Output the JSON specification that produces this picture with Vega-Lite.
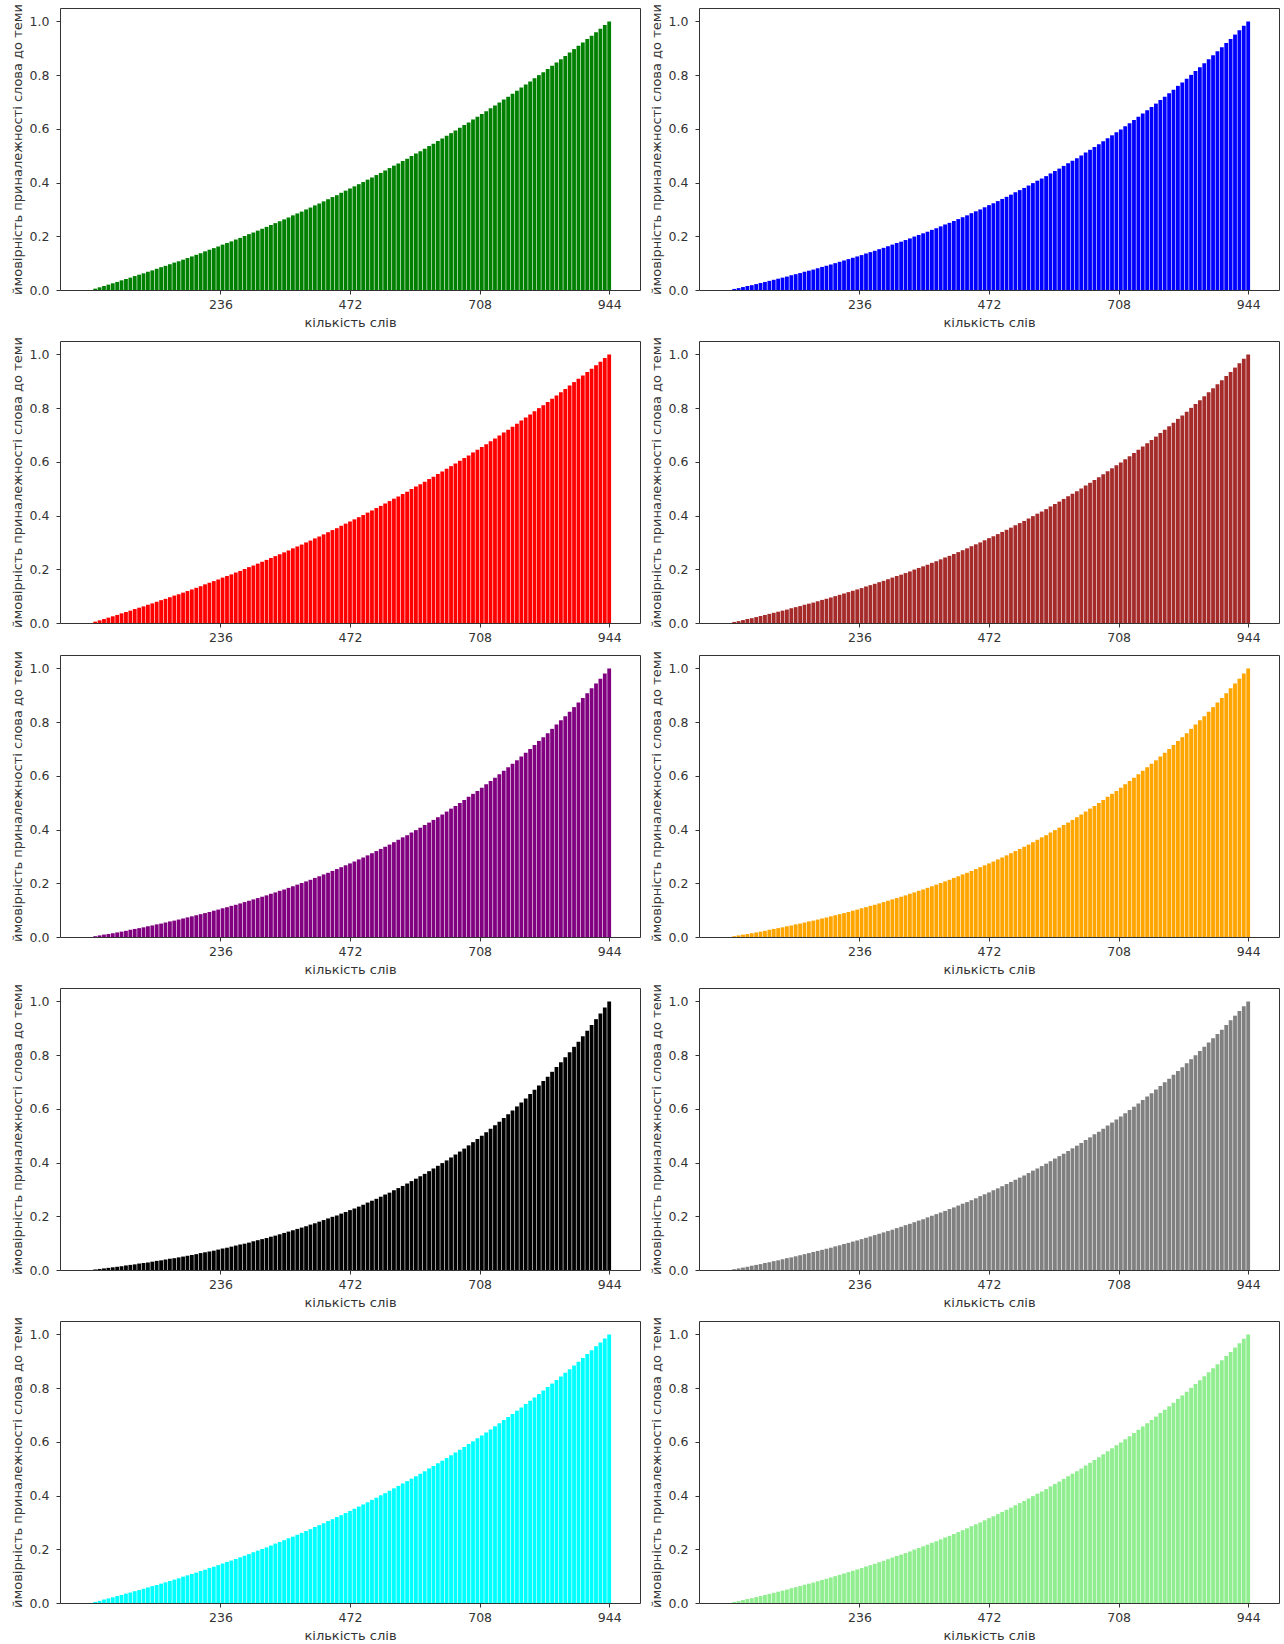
{
"$schema":"https://vega.github.io/schema/vega-lite/v6.json",
"background":"white",
"padding":{"left":10,"top":2,"right":5,"bottom":2},
"datasets":{"w":[
{"n":8,"a":0.005,"b":0.004,"c":0.004,"d":0.003,"e":0.003,"f":0.002},
{"n":16,"a":0.010,"b":0.008,"c":0.007,"d":0.006,"e":0.006,"f":0.004},
{"n":24,"a":0.015,"b":0.013,"c":0.011,"d":0.009,"e":0.009,"f":0.006},
{"n":32,"a":0.020,"b":0.017,"c":0.015,"d":0.012,"e":0.011,"f":0.008},
{"n":40,"a":0.025,"b":0.021,"c":0.018,"d":0.016,"e":0.014,"f":0.010},
{"n":48,"a":0.030,"b":0.026,"c":0.022,"d":0.019,"e":0.017,"f":0.012},
{"n":56,"a":0.036,"b":0.030,"c":0.026,"d":0.022,"e":0.020,"f":0.014},
{"n":64,"a":0.041,"b":0.035,"c":0.030,"d":0.026,"e":0.023,"f":0.017},
{"n":72,"a":0.046,"b":0.039,"c":0.034,"d":0.029,"e":0.027,"f":0.019},
{"n":80,"a":0.052,"b":0.044,"c":0.038,"d":0.033,"e":0.030,"f":0.021},
{"n":88,"a":0.057,"b":0.048,"c":0.042,"d":0.036,"e":0.033,"f":0.024},
{"n":96,"a":0.062,"b":0.053,"c":0.046,"d":0.040,"e":0.036,"f":0.026},
{"n":104,"a":0.068,"b":0.058,"c":0.050,"d":0.044,"e":0.040,"f":0.028},
{"n":112,"a":0.073,"b":0.063,"c":0.055,"d":0.047,"e":0.043,"f":0.031},
{"n":120,"a":0.079,"b":0.067,"c":0.059,"d":0.051,"e":0.047,"f":0.034},
{"n":128,"a":0.085,"b":0.072,"c":0.063,"d":0.055,"e":0.050,"f":0.036},
{"n":136,"a":0.090,"b":0.077,"c":0.068,"d":0.059,"e":0.054,"f":0.039},
{"n":144,"a":0.096,"b":0.082,"c":0.072,"d":0.063,"e":0.058,"f":0.042},
{"n":152,"a":0.102,"b":0.087,"c":0.076,"d":0.067,"e":0.061,"f":0.044},
{"n":160,"a":0.107,"b":0.092,"c":0.081,"d":0.071,"e":0.065,"f":0.047},
{"n":168,"a":0.113,"b":0.098,"c":0.086,"d":0.075,"e":0.069,"f":0.050},
{"n":176,"a":0.119,"b":0.103,"c":0.090,"d":0.079,"e":0.073,"f":0.053},
{"n":184,"a":0.125,"b":0.108,"c":0.095,"d":0.083,"e":0.077,"f":0.056},
{"n":192,"a":0.131,"b":0.113,"c":0.100,"d":0.088,"e":0.081,"f":0.059},
{"n":200,"a":0.137,"b":0.119,"c":0.105,"d":0.092,"e":0.085,"f":0.063},
{"n":208,"a":0.144,"b":0.124,"c":0.110,"d":0.097,"e":0.089,"f":0.066},
{"n":216,"a":0.150,"b":0.130,"c":0.115,"d":0.101,"e":0.093,"f":0.069},
{"n":224,"a":0.156,"b":0.135,"c":0.120,"d":0.106,"e":0.098,"f":0.072},
{"n":232,"a":0.162,"b":0.141,"c":0.125,"d":0.110,"e":0.102,"f":0.076},
{"n":240,"a":0.169,"b":0.147,"c":0.130,"d":0.115,"e":0.107,"f":0.080},
{"n":248,"a":0.175,"b":0.153,"c":0.136,"d":0.120,"e":0.111,"f":0.083},
{"n":256,"a":0.181,"b":0.158,"c":0.141,"d":0.125,"e":0.116,"f":0.087},
{"n":264,"a":0.188,"b":0.164,"c":0.146,"d":0.130,"e":0.120,"f":0.091},
{"n":272,"a":0.194,"b":0.170,"c":0.152,"d":0.135,"e":0.125,"f":0.095},
{"n":280,"a":0.201,"b":0.176,"c":0.157,"d":0.140,"e":0.130,"f":0.098},
{"n":288,"a":0.208,"b":0.182,"c":0.163,"d":0.145,"e":0.135,"f":0.102},
{"n":296,"a":0.214,"b":0.189,"c":0.169,"d":0.150,"e":0.140,"f":0.107},
{"n":304,"a":0.221,"b":0.195,"c":0.175,"d":0.156,"e":0.145,"f":0.111},
{"n":312,"a":0.228,"b":0.201,"c":0.180,"d":0.161,"e":0.150,"f":0.115},
{"n":320,"a":0.235,"b":0.207,"c":0.186,"d":0.167,"e":0.155,"f":0.119},
{"n":328,"a":0.242,"b":0.214,"c":0.192,"d":0.172,"e":0.161,"f":0.124},
{"n":336,"a":0.249,"b":0.221,"c":0.199,"d":0.178,"e":0.166,"f":0.128},
{"n":344,"a":0.256,"b":0.227,"c":0.205,"d":0.184,"e":0.172,"f":0.133},
{"n":352,"a":0.263,"b":0.234,"c":0.211,"d":0.189,"e":0.177,"f":0.138},
{"n":360,"a":0.270,"b":0.241,"c":0.217,"d":0.196,"e":0.183,"f":0.143},
{"n":368,"a":0.278,"b":0.247,"c":0.224,"d":0.202,"e":0.189,"f":0.148},
{"n":376,"a":0.285,"b":0.254,"c":0.230,"d":0.208,"e":0.195,"f":0.153},
{"n":384,"a":0.292,"b":0.261,"c":0.237,"d":0.214,"e":0.201,"f":0.158},
{"n":392,"a":0.300,"b":0.268,"c":0.244,"d":0.220,"e":0.207,"f":0.163},
{"n":400,"a":0.307,"b":0.275,"c":0.250,"d":0.227,"e":0.213,"f":0.169},
{"n":408,"a":0.315,"b":0.283,"c":0.257,"d":0.233,"e":0.220,"f":0.174},
{"n":416,"a":0.322,"b":0.290,"c":0.264,"d":0.240,"e":0.226,"f":0.180},
{"n":424,"a":0.330,"b":0.297,"c":0.271,"d":0.247,"e":0.233,"f":0.186},
{"n":432,"a":0.338,"b":0.305,"c":0.278,"d":0.253,"e":0.239,"f":0.192},
{"n":440,"a":0.346,"b":0.312,"c":0.286,"d":0.260,"e":0.246,"f":0.198},
{"n":448,"a":0.353,"b":0.320,"c":0.293,"d":0.267,"e":0.253,"f":0.203},
{"n":456,"a":0.362,"b":0.327,"c":0.300,"d":0.275,"e":0.260,"f":0.210},
{"n":464,"a":0.370,"b":0.335,"c":0.308,"d":0.282,"e":0.267,"f":0.216},
{"n":472,"a":0.378,"b":0.343,"c":0.316,"d":0.289,"e":0.274,"f":0.223},
{"n":480,"a":0.386,"b":0.351,"c":0.323,"d":0.297,"e":0.281,"f":0.229},
{"n":488,"a":0.394,"b":0.359,"c":0.331,"d":0.304,"e":0.289,"f":0.236},
{"n":496,"a":0.402,"b":0.367,"c":0.339,"d":0.312,"e":0.296,"f":0.243},
{"n":504,"a":0.411,"b":0.375,"c":0.347,"d":0.320,"e":0.304,"f":0.251},
{"n":512,"a":0.419,"b":0.384,"c":0.355,"d":0.328,"e":0.312,"f":0.258},
{"n":520,"a":0.428,"b":0.392,"c":0.364,"d":0.336,"e":0.320,"f":0.265},
{"n":528,"a":0.436,"b":0.401,"c":0.372,"d":0.344,"e":0.328,"f":0.273},
{"n":536,"a":0.445,"b":0.409,"c":0.380,"d":0.352,"e":0.336,"f":0.281},
{"n":544,"a":0.454,"b":0.418,"c":0.389,"d":0.361,"e":0.344,"f":0.288},
{"n":552,"a":0.463,"b":0.427,"c":0.398,"d":0.370,"e":0.353,"f":0.297},
{"n":560,"a":0.471,"b":0.436,"c":0.407,"d":0.378,"e":0.362,"f":0.305},
{"n":568,"a":0.480,"b":0.445,"c":0.415,"d":0.387,"e":0.371,"f":0.313},
{"n":576,"a":0.489,"b":0.454,"c":0.424,"d":0.396,"e":0.379,"f":0.322},
{"n":584,"a":0.499,"b":0.463,"c":0.434,"d":0.405,"e":0.389,"f":0.331},
{"n":592,"a":0.508,"b":0.472,"c":0.443,"d":0.415,"e":0.398,"f":0.340},
{"n":600,"a":0.517,"b":0.481,"c":0.452,"d":0.424,"e":0.407,"f":0.349},
{"n":608,"a":0.526,"b":0.491,"c":0.462,"d":0.433,"e":0.417,"f":0.358},
{"n":616,"a":0.536,"b":0.501,"c":0.472,"d":0.443,"e":0.426,"f":0.368},
{"n":624,"a":0.545,"b":0.510,"c":0.481,"d":0.453,"e":0.436,"f":0.378},
{"n":632,"a":0.555,"b":0.520,"c":0.491,"d":0.463,"e":0.446,"f":0.388},
{"n":640,"a":0.564,"b":0.530,"c":0.501,"d":0.473,"e":0.456,"f":0.398},
{"n":648,"a":0.574,"b":0.540,"c":0.512,"d":0.484,"e":0.467,"f":0.408},
{"n":656,"a":0.584,"b":0.550,"c":0.522,"d":0.494,"e":0.478,"f":0.419},
{"n":664,"a":0.594,"b":0.560,"c":0.532,"d":0.505,"e":0.488,"f":0.430},
{"n":672,"a":0.604,"b":0.571,"c":0.543,"d":0.515,"e":0.499,"f":0.441},
{"n":680,"a":0.614,"b":0.581,"c":0.554,"d":0.526,"e":0.510,"f":0.452},
{"n":688,"a":0.624,"b":0.592,"c":0.565,"d":0.538,"e":0.522,"f":0.464},
{"n":696,"a":0.635,"b":0.602,"c":0.576,"d":0.549,"e":0.533,"f":0.476},
{"n":704,"a":0.645,"b":0.613,"c":0.587,"d":0.560,"e":0.544,"f":0.488},
{"n":712,"a":0.655,"b":0.624,"c":0.598,"d":0.572,"e":0.556,"f":0.500},
{"n":720,"a":0.666,"b":0.635,"c":0.610,"d":0.584,"e":0.569,"f":0.513},
{"n":728,"a":0.677,"b":0.646,"c":0.621,"d":0.596,"e":0.581,"f":0.526},
{"n":736,"a":0.687,"b":0.658,"c":0.633,"d":0.608,"e":0.593,"f":0.539},
{"n":744,"a":0.698,"b":0.669,"c":0.645,"d":0.620,"e":0.606,"f":0.552},
{"n":752,"a":0.709,"b":0.681,"c":0.657,"d":0.633,"e":0.619,"f":0.566},
{"n":760,"a":0.720,"b":0.693,"c":0.669,"d":0.646,"e":0.632,"f":0.580},
{"n":768,"a":0.731,"b":0.704,"c":0.681,"d":0.658,"e":0.645,"f":0.594},
{"n":776,"a":0.742,"b":0.716,"c":0.694,"d":0.672,"e":0.658,"f":0.609},
{"n":784,"a":0.754,"b":0.728,"c":0.707,"d":0.685,"e":0.672,"f":0.624},
{"n":792,"a":0.765,"b":0.741,"c":0.720,"d":0.699,"e":0.686,"f":0.639},
{"n":800,"a":0.776,"b":0.753,"c":0.733,"d":0.712,"e":0.700,"f":0.655},
{"n":808,"a":0.788,"b":0.765,"c":0.746,"d":0.727,"e":0.715,"f":0.671},
{"n":816,"a":0.800,"b":0.778,"c":0.760,"d":0.741,"e":0.730,"f":0.687},
{"n":824,"a":0.811,"b":0.791,"c":0.773,"d":0.755,"e":0.744,"f":0.704},
{"n":832,"a":0.823,"b":0.804,"c":0.787,"d":0.770,"e":0.759,"f":0.720},
{"n":840,"a":0.835,"b":0.817,"c":0.801,"d":0.785,"e":0.775,"f":0.738},
{"n":848,"a":0.847,"b":0.830,"c":0.815,"d":0.800,"e":0.791,"f":0.756},
{"n":856,"a":0.859,"b":0.843,"c":0.829,"d":0.815,"e":0.807,"f":0.774},
{"n":864,"a":0.871,"b":0.857,"c":0.844,"d":0.831,"e":0.822,"f":0.792},
{"n":872,"a":0.884,"b":0.870,"c":0.859,"d":0.847,"e":0.839,"f":0.811},
{"n":880,"a":0.897,"b":0.884,"c":0.874,"d":0.863,"e":0.856,"f":0.831},
{"n":888,"a":0.909,"b":0.898,"c":0.889,"d":0.879,"e":0.873,"f":0.850},
{"n":896,"a":0.922,"b":0.912,"c":0.904,"d":0.895,"e":0.890,"f":0.870},
{"n":904,"a":0.935,"b":0.927,"c":0.920,"d":0.912,"e":0.908,"f":0.891},
{"n":912,"a":0.947,"b":0.941,"c":0.935,"d":0.930,"e":0.926,"f":0.912},
{"n":920,"a":0.960,"b":0.956,"c":0.951,"d":0.947,"e":0.944,"f":0.934},
{"n":928,"a":0.973,"b":0.970,"c":0.967,"d":0.964,"e":0.962,"f":0.955},
{"n":936,"a":0.987,"b":0.985,"c":0.984,"d":0.982,"e":0.981,"f":0.977},
{"n":944,"a":1,"b":1,"c":1,"d":1,"e":1,"f":1}
]},
"data":{"name":"w"},
"columns":2,
"spacing":{"row":5,"column":8},
"concat":[
{"width":580,"height":282,"mark":{"type":"bar","color":"#008000","width":3.8},"encoding":{"x":{"field":"n","type":"quantitative","scale":{"domain":[-47,991],"nice":false,"zero":false},"axis":{"values":[236,472,708,944],"title":"кількість слів"}},"y":{"field":"a","type":"quantitative","scale":{"domain":[0,1.05],"nice":false},"axis":{"values":[0,0.2,0.4,0.6,0.8,1],"format":".1f","title":"ймовірність приналежності слова до теми"}}}},
{"width":580,"height":282,"mark":{"type":"bar","color":"#0000ff","width":3.8},"encoding":{"x":{"field":"n","type":"quantitative","scale":{"domain":[-47,991],"nice":false,"zero":false},"axis":{"values":[236,472,708,944],"title":"кількість слів"}},"y":{"field":"c","type":"quantitative","scale":{"domain":[0,1.05],"nice":false},"axis":{"values":[0,0.2,0.4,0.6,0.8,1],"format":".1f","title":"ймовірність приналежності слова до теми"}}}},
{"width":580,"height":282,"mark":{"type":"bar","color":"#ff0000","width":3.8},"encoding":{"x":{"field":"n","type":"quantitative","scale":{"domain":[-47,991],"nice":false,"zero":false},"axis":{"values":[236,472,708,944],"title":null}},"y":{"field":"a","type":"quantitative","scale":{"domain":[0,1.05],"nice":false},"axis":{"values":[0,0.2,0.4,0.6,0.8,1],"format":".1f","title":"ймовірність приналежності слова до теми"}}}},
{"width":580,"height":282,"mark":{"type":"bar","color":"#a52a2a","width":3.8},"encoding":{"x":{"field":"n","type":"quantitative","scale":{"domain":[-47,991],"nice":false,"zero":false},"axis":{"values":[236,472,708,944],"title":null}},"y":{"field":"c","type":"quantitative","scale":{"domain":[0,1.05],"nice":false},"axis":{"values":[0,0.2,0.4,0.6,0.8,1],"format":".1f","title":"ймовірність приналежності слова до теми"}}}},
{"width":580,"height":282,"mark":{"type":"bar","color":"#800080","width":3.8},"encoding":{"x":{"field":"n","type":"quantitative","scale":{"domain":[-47,991],"nice":false,"zero":false},"axis":{"values":[236,472,708,944],"title":"кількість слів"}},"y":{"field":"e","type":"quantitative","scale":{"domain":[0,1.05],"nice":false},"axis":{"values":[0,0.2,0.4,0.6,0.8,1],"format":".1f","title":"ймовірність приналежності слова до теми"}}}},
{"width":580,"height":282,"mark":{"type":"bar","color":"#ffa500","width":3.8},"encoding":{"x":{"field":"n","type":"quantitative","scale":{"domain":[-47,991],"nice":false,"zero":false},"axis":{"values":[236,472,708,944],"title":"кількість слів"}},"y":{"field":"e","type":"quantitative","scale":{"domain":[0,1.05],"nice":false},"axis":{"values":[0,0.2,0.4,0.6,0.8,1],"format":".1f","title":"ймовірність приналежності слова до теми"}}}},
{"width":580,"height":282,"mark":{"type":"bar","color":"#000000","width":3.8},"encoding":{"x":{"field":"n","type":"quantitative","scale":{"domain":[-47,991],"nice":false,"zero":false},"axis":{"values":[236,472,708,944],"title":"кількість слів"}},"y":{"field":"f","type":"quantitative","scale":{"domain":[0,1.05],"nice":false},"axis":{"values":[0,0.2,0.4,0.6,0.8,1],"format":".1f","title":"ймовірність приналежності слова до теми"}}}},
{"width":580,"height":282,"mark":{"type":"bar","color":"#808080","width":3.8},"encoding":{"x":{"field":"n","type":"quantitative","scale":{"domain":[-47,991],"nice":false,"zero":false},"axis":{"values":[236,472,708,944],"title":"кількість слів"}},"y":{"field":"d","type":"quantitative","scale":{"domain":[0,1.05],"nice":false},"axis":{"values":[0,0.2,0.4,0.6,0.8,1],"format":".1f","title":"ймовірність приналежності слова до теми"}}}},
{"width":580,"height":282,"mark":{"type":"bar","color":"#00ffff","width":3.8},"encoding":{"x":{"field":"n","type":"quantitative","scale":{"domain":[-47,991],"nice":false,"zero":false},"axis":{"values":[236,472,708,944],"title":"кількість слів"}},"y":{"field":"b","type":"quantitative","scale":{"domain":[0,1.05],"nice":false},"axis":{"values":[0,0.2,0.4,0.6,0.8,1],"format":".1f","title":"ймовірність приналежності слова до теми"}}}},
{"width":580,"height":282,"mark":{"type":"bar","color":"#90ee90","width":3.8},"encoding":{"x":{"field":"n","type":"quantitative","scale":{"domain":[-47,991],"nice":false,"zero":false},"axis":{"values":[236,472,708,944],"title":"кількість слів"}},"y":{"field":"c","type":"quantitative","scale":{"domain":[0,1.05],"nice":false},"axis":{"values":[0,0.2,0.4,0.6,0.8,1],"format":".1f","title":"ймовірність приналежності слова до теми"}}}}
],
"config":{
"font":"DejaVu Sans",
"view":{"stroke":"#333333","strokeWidth":1},
"axis":{"domain":false,"grid":false,"ticks":true,"tickSize":4,"tickColor":"#333333","labelColor":"#333333","labelFont":"DejaVu Sans","labelFontSize":12.5,"titleFont":"DejaVu Sans","titleFontSize":13,"titleFontWeight":"normal","titleColor":"#333333"},
"axisX":{"labelPadding":4,"titlePadding":6},
"axisY":{"labelPadding":7,"titlePadding":5}
}
}
